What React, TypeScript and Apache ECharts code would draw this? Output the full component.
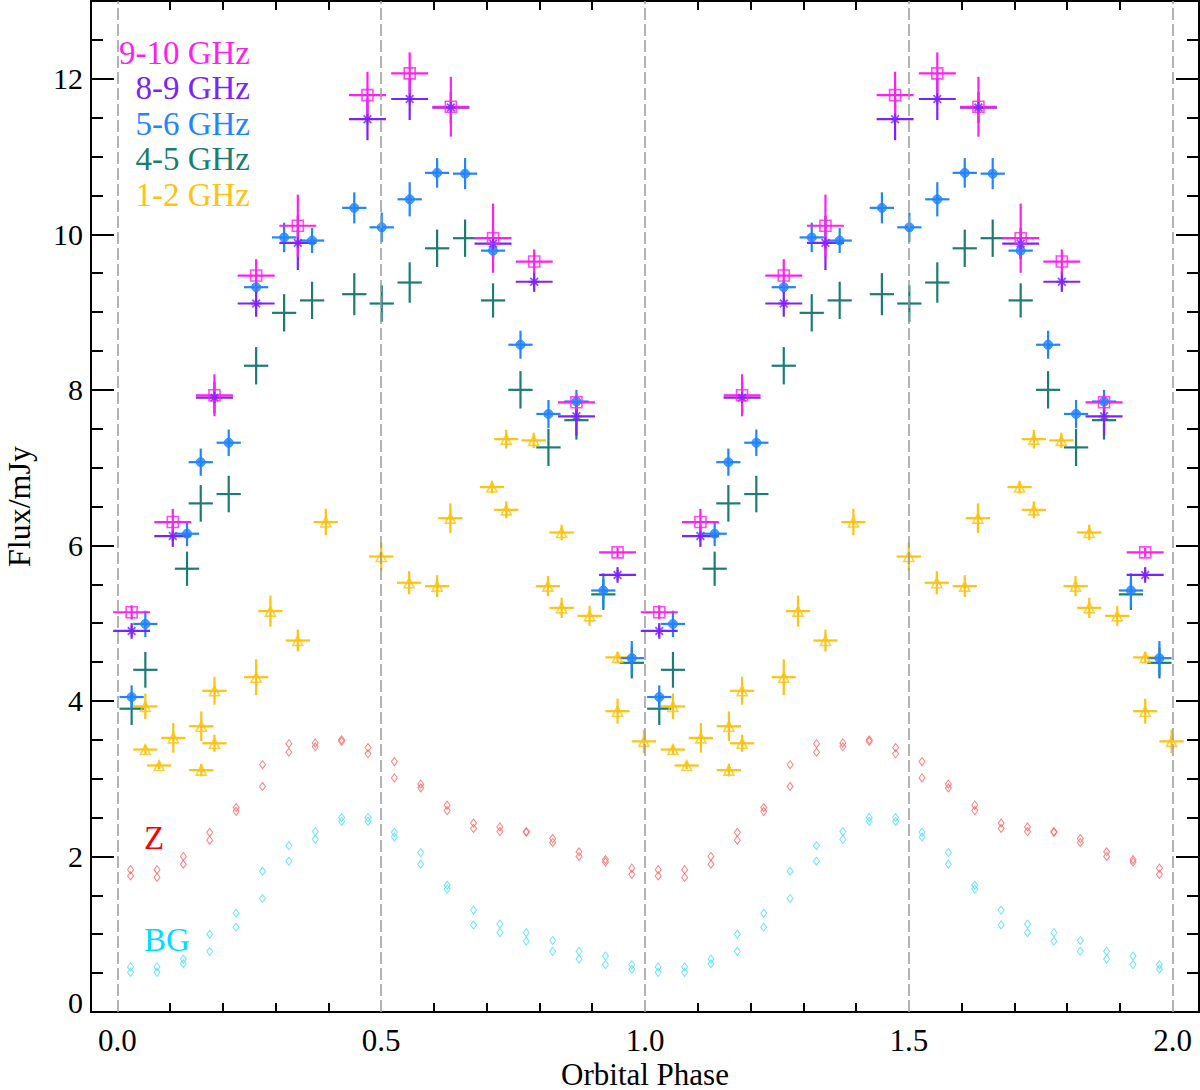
import React, { useEffect, useRef } from 'react';
import * as echarts from 'echarts';

const SERIF = '"Liberation Serif", "Times New Roman", serif';

// axis ticks and labels
const X_LABELS = [0, 0.5, 1, 1.5, 2];
const X_TICKS = [0.1, 0.2, 0.3, 0.4, 0.6, 0.7, 0.8, 0.9, 1.1, 1.2, 1.3, 1.4, 1.6, 1.7, 1.8, 1.9];
const Y_MAJOR = [0, 2, 4, 6, 8, 10, 12];
const PHASE_GUIDES = [0, 0.5, 1, 1.5, 2];

// half width of the phase bins (horizontal error bars)
const HALF_BIN_WIDE = 0.035;
const HALF_BIN_NARROW = 0.023;

// one orbital cycle: [phase, flux mJy, flux error]; the plot shows it twice (phase and phase + 1)
const FLUX_9_10 = [
  [0.027, 5.14, 0.09], [0.105, 6.3, 0.17], [0.184, 7.93, 0.27], [0.263, 9.47, 0.21],
  [0.342, 10.11, 0.4], [0.474, 11.79, 0.3], [0.554, 12.07, 0.27], [0.632, 11.64, 0.385],
  [0.712, 9.95, 0.445], [0.79, 9.65, 0.155], [0.87, 7.84, 0.1], [0.948, 5.91, 0.06],
];

const FLUX_8_9 = [
  [0.027, 4.9, 0.1], [0.105, 6.12, 0.14], [0.184, 7.9, 0.2], [0.263, 9.11, 0.17],
  [0.342, 9.89, 0.35], [0.474, 11.48, 0.27], [0.554, 11.74, 0.27], [0.632, 11.63, 0.2],
  [0.712, 9.88, 0.2], [0.79, 9.39, 0.13], [0.87, 7.66, 0.25], [0.948, 5.62, 0.1],
];

const FLUX_5_6 = [
  [0.027, 4.05, 0.15], [0.053, 4.99, 0.17], [0.132, 6.15, 0.16], [0.158, 7.07, 0.175],
  [0.211, 7.32, 0.17], [0.263, 9.32, 0.08], [0.316, 9.96, 0.19], [0.369, 9.92, 0.16],
  [0.449, 10.34, 0.2], [0.501, 10.09, 0.19], [0.554, 10.45, 0.22], [0.606, 10.79, 0.19],
  [0.659, 10.78, 0.2], [0.712, 9.79, 0.1], [0.764, 8.58, 0.18], [0.817, 7.69, 0.18],
  [0.87, 7.85, 0.15], [0.921, 5.42, 0.22], [0.975, 4.55, 0.22],
];

const FLUX_4_5 = [
  [0.027, 3.9, 0.21], [0.053, 4.4, 0.23], [0.132, 5.7, 0.22], [0.158, 6.54, 0.235],
  [0.211, 6.66, 0.235], [0.263, 8.31, 0.24], [0.316, 8.99, 0.24], [0.369, 9.15, 0.24],
  [0.449, 9.23, 0.27], [0.501, 9.11, 0.235], [0.554, 9.38, 0.26], [0.606, 9.82, 0.24],
  [0.659, 9.95, 0.24], [0.712, 9.15, 0.22], [0.764, 8.0, 0.24], [0.817, 7.26, 0.24],
  [0.87, 7.61, 0.25], [0.921, 5.37, 0.2], [0.975, 4.49, 0.2],
];

const FLUX_1_2 = [
  [0.053, 3.93, 0.165], [0.053, 3.375, 0.06], [0.079, 3.17, 0.05], [0.106, 3.525, 0.19],
  [0.159, 3.675, 0.19], [0.159, 3.11, 0.08], [0.184, 3.455, 0.11], [0.184, 4.13, 0.18],
  [0.263, 4.305, 0.23], [0.29, 5.155, 0.2], [0.342, 4.777, 0.14], [0.395, 6.3, 0.17],
  [0.5, 5.857, 0.18], [0.553, 5.52, 0.15], [0.606, 5.476, 0.14], [0.631, 6.35, 0.19],
  [0.71, 6.75, 0.08], [0.737, 7.366, 0.12], [0.737, 6.457, 0.11], [0.789, 7.35, 0.1],
  [0.816, 5.476, 0.13], [0.842, 6.166, 0.1], [0.842, 5.197, 0.13], [0.895, 5.094, 0.13],
  [0.948, 4.56, 0.07], [0.948, 3.868, 0.16], [0.998, 3.48, 0.15],
];

// Z and BG: two measurements per 0.05 phase bin
const ZB_PHASE = [
  0.025, 0.075, 0.125, 0.175, 0.225, 0.275, 0.325, 0.375, 0.425, 0.475,
  0.525, 0.575, 0.625, 0.675, 0.725, 0.775, 0.825, 0.875, 0.925, 0.975,
];
const Z_A = [1.83, 1.83, 2.0, 2.31, 2.63, 3.18, 3.45, 3.46, 3.5, 3.4, 3.22, 2.93, 2.66, 2.43, 2.38, 2.32, 2.23, 2.06, 1.96, 1.85];
const Z_B = [1.75, 1.73, 1.9, 2.21, 2.58, 2.9, 3.34, 3.41, 3.48, 3.32, 3.01, 2.88, 2.59, 2.36, 2.32, 2.31, 2.18, 2.0, 1.93, 1.77];
const BG_A = [0.58, 0.58, 0.68, 1.0, 1.27, 1.81, 2.14, 2.32, 2.5, 2.5, 2.31, 2.05, 1.63, 1.31, 1.13, 1.02, 0.92, 0.78, 0.72, 0.61];
const BG_B = [0.51, 0.51, 0.62, 0.78, 1.09, 1.46, 1.94, 2.22, 2.45, 2.45, 2.25, 1.9, 1.58, 1.12, 1.02, 0.91, 0.78, 0.68, 0.61, 0.55];

const ASTERISK = 'path://M5 0L5 10M0 5L10 5M1.5 1.5L8.5 8.5M8.5 1.5L1.5 8.5';

const BANDS = [
  { label: '1-2 GHz', rows: FLUX_1_2, halfBin: HALF_BIN_NARROW, color: '#ffc20e', symbol: 'triangle', size: 10, hollow: true },
  { label: '4-5 GHz', rows: FLUX_4_5, halfBin: HALF_BIN_NARROW, color: '#1b7d72', symbol: 'none', size: 0, hollow: false },
  { label: '5-6 GHz', rows: FLUX_5_6, halfBin: HALF_BIN_NARROW, color: '#1f84ff', symbol: 'circle', size: 9, hollow: false },
  { label: '8-9 GHz', rows: FLUX_8_9, halfBin: HALF_BIN_WIDE, color: '#7a22ff', symbol: ASTERISK, size: 11, hollow: false },
  { label: '9-10 GHz', rows: FLUX_9_10, halfBin: HALF_BIN_WIDE, color: '#ff1ef0', symbol: 'rect', size: 11, hollow: true },
];

const LEGEND_ORDER = ['9-10 GHz', '8-9 GHz', '5-6 GHz', '4-5 GHz', '1-2 GHz'];

const twoCycles = (rows: number[][]) => [...rows, ...rows.map(([p, ...rest]) => [p + 1, ...rest])];

const errorBars = (color: string) => (params: any, api: any) => {
  const p = api.value(0);
  const f = api.value(1);
  const dp = api.value(2);
  const df = api.value(3);
  const l = api.coord([p - dp, f]);
  const r = api.coord([p + dp, f]);
  const t = api.coord([p, f + df]);
  const b = api.coord([p, f - df]);
  const style = { stroke: color, lineWidth: 2.2 };
  return {
    type: 'group',
    children: [
      { type: 'line', shape: { x1: l[0], y1: l[1], x2: r[0], y2: r[1] }, style },
      { type: 'line', shape: { x1: t[0], y1: t[1], x2: b[0], y2: b[1] }, style },
    ],
  };
};

const App: React.FC = () => {
  const chartRef = useRef<HTMLDivElement>(null);

  useEffect(() => {
    const chart = echarts.init(chartRef.current!, undefined, { renderer: 'svg' });

    const xBase = {
      type: 'value',
      min: -0.05,
      max: 2.05,
      axisLine: { show: true, onZero: false, lineStyle: { color: '#000', width: 2 } },
      axisTick: { show: true, inside: true, length: 9, customValues: X_TICKS, lineStyle: { color: '#000', width: 2 } },
      splitLine: { show: false },
    };
    const yBase = {
      type: 'value',
      min: 0,
      max: 13,
      interval: 0.5,
      axisLine: { show: true, onZero: false, lineStyle: { color: '#000', width: 2 } },
      axisTick: { show: true, inside: true, length: 12, lineStyle: { color: '#000', width: 2 } },
      splitLine: { show: false },
    };
    const yMajor = {
      type: 'value',
      min: 0,
      max: 13,
      axisLine: { show: false, onZero: false },
      axisTick: { show: true, inside: true, length: 23, customValues: Y_MAJOR, lineStyle: { color: '#000', width: 2 } },
      axisLabel: { show: false },
      splitLine: { show: false },
    };

    const series: any[] = [
      {
        type: 'line',
        data: [],
        silent: true,
        markLine: {
          silent: true,
          symbol: ['none', 'none'],
          label: { show: false },
          lineStyle: { type: [12, 4], color: '#9a9a9a', width: 1.5 },
          data: PHASE_GUIDES.map((v) => ({ xAxis: v })),
        },
      },
      {
        type: 'scatter',
        data: twoCycles(ZB_PHASE.flatMap((p, i) => [[p, BG_A[i]], [p, BG_B[i]]])),
        symbol: 'diamond',
        symbolSize: [6, 8],
        itemStyle: { color: 'rgba(0,0,0,0)', borderColor: '#45ddff', borderWidth: 1 },
      },
      {
        type: 'scatter',
        data: twoCycles(ZB_PHASE.flatMap((p, i) => [[p, Z_A[i]], [p, Z_B[i]]])),
        symbol: 'diamond',
        symbolSize: [6, 8],
        itemStyle: { color: 'rgba(0,0,0,0)', borderColor: '#ff5c5c', borderWidth: 1 },
      },
    ];

    BANDS.forEach((band) => {
      const rows = twoCycles(band.rows);
      series.push({
        type: 'custom',
        name: band.label,
        renderItem: errorBars(band.color),
        encode: { x: 0, y: 1 },
        data: rows.map(([p, f, e]) => [p, f, band.halfBin, e]),
      });
      if (band.symbol !== 'none') {
        series.push({
          type: 'scatter',
          name: band.label,
          data: rows.map(([p, f]) => [p, f]),
          symbol: band.symbol,
          symbolSize: band.size,
          itemStyle: band.hollow
            ? { color: 'rgba(0,0,0,0)', borderColor: band.color, borderWidth: 1.6 }
            : { color: band.color, borderColor: band.color, borderWidth: band.symbol === 'circle' ? 1 : 1.8 },
        });
      }
    });

    const legendTexts = LEGEND_ORDER.map((label, i) => {
      const band = BANDS.find((b) => b.label === label)!;
      return {
        type: 'text',
        x: 250,
        y: 53 + i * 35.4,
        style: {
          text: label,
          fill: band.color,
          fontSize: 33,
          fontFamily: SERIF,
          align: 'right',
          verticalAlign: 'middle',
        },
      };
    });

    const options = {
      animation: false,
      backgroundColor: '#fff',
      grid: { left: 91, right: 1, top: 1, bottom: 78, outerBoundsMode: 'none' },
      xAxis: [
        {
          ...xBase,
          position: 'bottom',
          axisLabel: {
            show: true,
            customValues: X_LABELS,
            margin: 13,
            color: '#000',
            fontSize: 31,
            fontFamily: SERIF,
            formatter: (v: number) => v.toFixed(1),
          },
          name: 'Orbital Phase',
          nameLocation: 'middle',
          nameGap: 47,
          nameMoveOverlap: false,
          nameTextStyle: { color: '#000', fontSize: 31, lineHeight: 30, fontFamily: SERIF },
        },
        { ...xBase, position: 'top', axisLabel: { show: false } },
      ],
      yAxis: [
        {
          ...yBase,
          position: 'left',
          axisLabel: {
            show: true,
            customValues: Y_MAJOR,
            margin: 8,
            color: '#000',
            fontSize: 30,
            fontFamily: SERIF,
            formatter: (v: number) => (v === 0 ? '{z|0}' : String(v)),
            rich: { z: { fontSize: 30, fontFamily: SERIF, color: '#000', padding: [0, 0, 20, 0] } },
          },
          name: 'Flux/mJy',
          nameLocation: 'middle',
          nameGap: 56,
          nameTextStyle: { color: '#000', fontSize: 32, fontFamily: SERIF },
        },
        { ...yMajor, position: 'left' },
        { ...yBase, position: 'right', axisLabel: { show: false } },
        { ...yMajor, position: 'right' },
      ],
      graphic: [
        ...legendTexts,
        {
          type: 'text',
          x: 154,
          y: 838,
          style: { text: 'Z', fill: '#ff0000', fontSize: 33, fontFamily: SERIF, align: 'center', verticalAlign: 'middle' },
        },
        {
          type: 'text',
          x: 167,
          y: 940,
          style: { text: 'BG', fill: '#00ddff', fontSize: 33, fontFamily: SERIF, align: 'center', verticalAlign: 'middle' },
        },
      ],
      series,
    };

    chart.setOption(options);

    return () => {
      chart.dispose();
    };
  }, []);

  return (
    <div
      ref={chartRef}
      style={{ position: 'fixed', left: 0, top: 0, width: '1200px', height: '1090px', background: '#fff' }}
    />
  );
};

export default App;
